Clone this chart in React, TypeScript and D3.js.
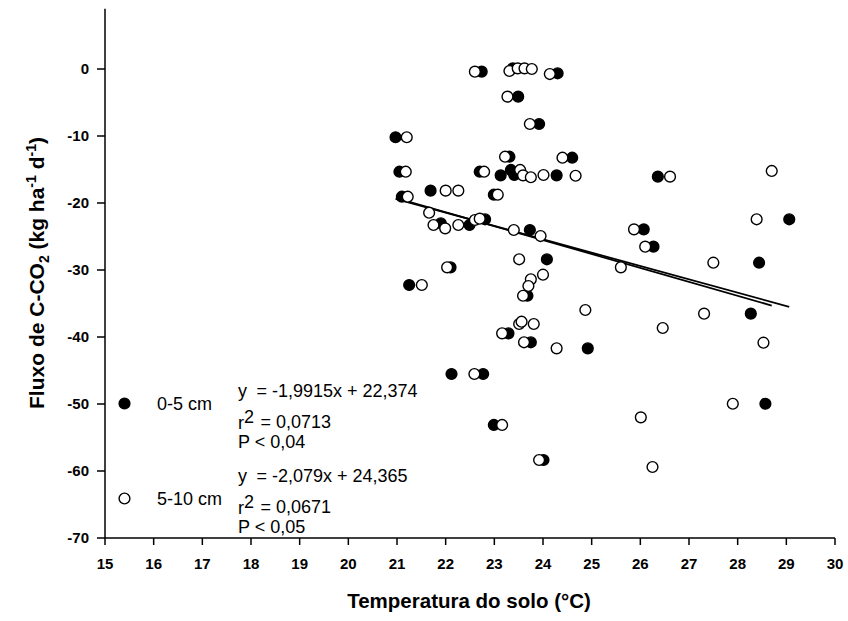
import React from "react";
import * as d3 from "d3";

// 0-5 cm (filled)
const shallowTemp = [22.74, 23.38, 24.30, 23.49, 23.92, 20.97, 23.31, 24.60, 21.05, 22.70, 23.13, 23.34, 23.41, 24.28, 21.69, 21.10, 22.99, 21.90, 22.49, 22.81, 23.73, 24.08, 22.10, 21.25, 23.68, 23.29, 23.75, 24.92, 22.12, 22.77, 22.99, 24.01, 26.36, 29.06, 26.07, 26.27, 28.44, 28.27, 28.57];
const shallowFlux = [-0.4, 0.1, -0.64, -4.13, -8.21, -10.19, -13.09, -13.24, -15.33, -15.33, -15.87, -15.07, -15.82, -15.87, -18.16, -19.06, -18.76, -23.03, -23.28, -22.43, -24.03, -28.4, -29.6, -32.24, -33.84, -39.45, -40.79, -41.69, -45.52, -45.52, -53.13, -58.36, -16.07, -22.43, -23.93, -26.52, -28.91, -36.52, -49.96];

// 5-10 cm (open)
const deepTemp = [22.60, 23.31, 23.48, 23.62, 23.77, 24.14, 23.27, 23.73, 21.20, 23.22, 24.40, 21.18, 22.79, 23.53, 23.59, 23.75, 24.01, 24.67, 22.00, 22.26, 21.22, 23.07, 21.66, 21.75, 21.99, 22.26, 22.60, 22.70, 23.40, 23.95, 23.51, 22.03, 21.51, 24.00, 23.75, 23.70, 23.59, 24.87, 23.51, 23.56, 23.81, 23.16, 23.61, 24.28, 22.59, 23.16, 23.92, 26.61, 28.70, 28.39, 25.87, 26.10, 25.60, 27.50, 27.31, 26.46, 28.53, 27.90, 26.01, 26.25];
const deepFlux = [-0.4, -0.3, 0.1, 0.1, 0.0, -0.75, -4.13, -8.21, -10.19, -13.09, -13.24, -15.33, -15.33, -15.07, -15.87, -16.16, -15.82, -15.93, -18.16, -18.16, -19.06, -18.76, -21.45, -23.28, -23.78, -23.28, -22.54, -22.34, -24.03, -24.93, -28.4, -29.6, -32.24, -30.7, -31.39, -32.39, -33.84, -35.97, -38.06, -37.72, -38.06, -39.45, -40.79, -41.69, -45.52, -53.13, -58.36, -16.07, -15.22, -22.43, -23.93, -26.52, -29.6, -28.91, -36.52, -38.66, -40.85, -49.96, -51.99, -59.4];

const xTicks = [15, 16, 17, 18, 19, 20, 21, 22, 23, 24, 25, 26, 27, 28, 29, 30];
const yTicks = [0, -10, -20, -30, -40, -50, -60, -70];

const shallowFit = { slope: -1.9915, intercept: 22.374 };
const deepFit = { slope: -2.079, intercept: 24.365 };

const legendLabels = ["0-5 cm", "5-10 cm"];
const eqTexts = ["= -1,9915x + 22,374", "= -2,079x + 24,365"];
const r2Texts = ["= 0,0713", "= 0,0671"];
const pTexts = ["P < 0,04", "P < 0,05"];

const FONT = "'Liberation Sans', Arial, sans-serif";

export default function App() {
  const x = d3.scaleLinear().domain([15, 30]).range([105, 835]);
  const y = d3.scaleLinear().domain([-70, 0]).range([538, 69]);
  const yTop = y(9);
  const R = 5.4;

  const fitLine = (fit: { slope: number; intercept: number }, xs: number[]) => {
    const [a, b] = d3.extent(xs) as [number, number];
    const gen = d3.line<number>().x((v) => x(v)).y((v) => y(fit.slope * v + fit.intercept));
    return gen([a, b]) || "";
  };

  const shallowPts = shallowTemp.map((t, i) => ({ t, f: shallowFlux[i] }));
  const deepPts = deepTemp.map((t, i) => ({ t, f: deepFlux[i] }));

  const blockBase = [396.5, 481.5];
  const legendCy = [403.5, 498.5];

  return (
    <svg width={848} height={621} style={{ position: "absolute", left: 0, top: 0, background: "#fff" }} fontFamily={FONT}>
      <rect x={0} y={0} width={848} height={621} fill="#fff" />
      {/* axes */}
      <line x1={x(15)} x2={x(15)} y1={yTop} y2={y(-70)} stroke="#000" strokeWidth={1.5} />
      <line x1={x(15)} x2={x(30)} y1={y(-70)} y2={y(-70)} stroke="#000" strokeWidth={1.5} />
      {yTicks.map((v) => (
        <g key={"y" + v}>
          <line x1={x(15) - 8} x2={x(15)} y1={y(v)} y2={y(v)} stroke="#000" strokeWidth={1.5} />
          <text x={x(15) - 16} y={y(v) + 5} textAnchor="end" fontSize={15} fontWeight="bold">{v}</text>
        </g>
      ))}
      {xTicks.map((v) => (
        <g key={"x" + v}>
          <line x1={x(v)} x2={x(v)} y1={y(-70)} y2={y(-70) + 7} stroke="#000" strokeWidth={1.5} />
          <text x={x(v)} y={568.5} textAnchor="middle" fontSize={15} fontWeight="bold">{v}</text>
        </g>
      ))}
      {/* axis titles */}
      <text x={469} y={608} textAnchor="middle" fontSize={20.5} fontWeight="bold">Temperatura do solo (°C)</text>
      <text x={44} y={273} transform="rotate(-90 44 273)" textAnchor="middle" fontSize={21} fontWeight="bold">
        Fluxo de C-CO<tspan fontSize={14} dy={5}>2</tspan>
        <tspan dy={-5}> (kg ha</tspan>
        <tspan fontSize={14} dy={-8}>-1</tspan>
        <tspan dy={8}> d</tspan>
        <tspan fontSize={14} dy={-8}>-1</tspan>
        <tspan dy={8}>)</tspan>
      </text>
      {/* regression lines */}
      <path d={fitLine(shallowFit, shallowTemp)} stroke="#000" strokeWidth={1.8} fill="none" />
      <path d={fitLine(deepFit, deepTemp)} stroke="#000" strokeWidth={1.8} fill="none" />
      {/* points */}
      {shallowPts.map((p, i) => (
        <circle key={"s" + i} cx={x(p.t)} cy={y(p.f)} r={R} fill="#000" stroke="#000" strokeWidth={1.4} />
      ))}
      {deepPts.map((p, i) => (
        <circle key={"d" + i} cx={x(p.t)} cy={y(p.f)} r={R} fill="#fff" stroke="#000" strokeWidth={1.4} />
      ))}
      {/* legend */}
      {legendLabels.map((lab, i) => (
        <g key={"l" + i}>
          <circle cx={124.5} cy={legendCy[i]} r={R} fill={i === 0 ? "#000" : "#fff"} stroke="#000" strokeWidth={1.4} />
          <text x={157} y={legendCy[i] + 6.5} fontSize={18}>{lab}</text>
          <text x={238} y={blockBase[i]} fontSize={18}>y</text>
          <text x={256.5} y={blockBase[i]} fontSize={18}>{eqTexts[i]}</text>
          <text x={238} y={blockBase[i] + 32} fontSize={18}>r</text>
          <text x={244} y={blockBase[i] + 26} fontSize={18}>2</text>
          <text x={260.5} y={blockBase[i] + 31} fontSize={18}>{r2Texts[i]}</text>
          <text x={238} y={blockBase[i] + 51.5} fontSize={18}>{pTexts[i]}</text>
        </g>
      ))}
    </svg>
  );
}
